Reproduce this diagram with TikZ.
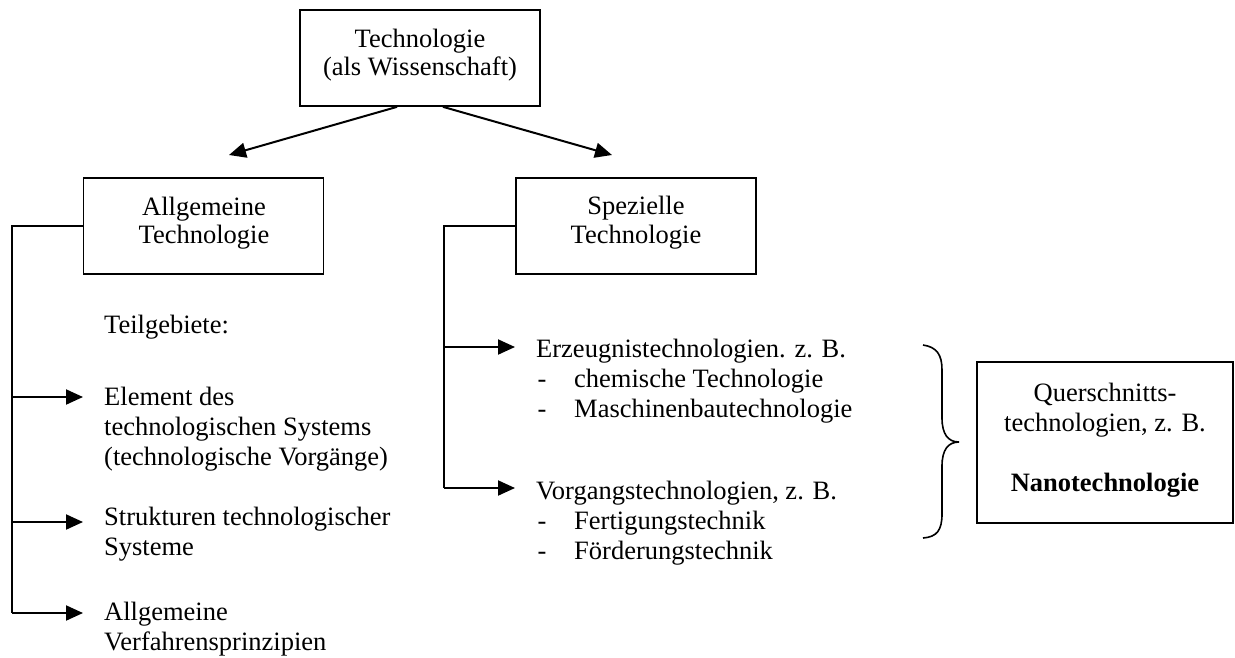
\documentclass[tikz,border=0pt]{standalone}
\usepackage{fontspec}
\setmainfont{Liberation Serif}
\usetikzlibrary{arrows.meta}
\newcommand\lineL[1]{\hbox{#1}}
\newcommand\lineC[1]{\hbox to 0pt{\hss#1\hss}}
\newcommand\dashitem[1]{\hbox{\hspace*{1.5pt}\makebox[36.5pt][l]{-}#1}}
\begin{document}
\begin{tikzpicture}[x=1pt,y=-1pt,
  font=\fontsize{26.5}{30}\selectfont,
  box/.style={draw, line width=1.7pt, minimum width=240pt, minimum height=96pt, inner sep=0pt},
  txt/.style={inner sep=0pt, anchor=base west},
  ctxt/.style={inner sep=0pt, anchor=base},
  ln/.style={line width=2pt},
  arr/.style={line width=2pt, -{Triangle[length=17pt,width=15pt]}}]
\useasboundingbox (0,0) rectangle (1235,657);

% boxes
\node[box] (top) at (420,58) {};
\node[box] (allg) at (203.5,226) {};
\node[box] (spez) at (636,226) {};
\node[draw, line width=2.6pt, minimum width=256pt, minimum height=161pt, inner sep=0pt] (quer) at (1105,442.5) {};

% box texts
\node[ctxt] (topT) at (420,47) {\vtop{\baselineskip=28pt\lineC{Technologie}\lineC{(als Wissenschaft)}}};
\node[ctxt] (allgT) at (204,215) {\vtop{\baselineskip=28pt\lineC{Allgemeine}\lineC{Technologie}}};
\node[ctxt] (spezT) at (636,214) {\vtop{\baselineskip=29pt\lineC{Spezielle}\lineC{Technologie}}};
\node[ctxt] (querT) at (1105,401) {\vtop{\lineC{Querschnitts-}\lineC{technologien, z. B.}\lineC{}\lineC{\bfseries Nanotechnologie}}};

% list texts
\node[txt] (teil) at (104,333) {Teilgebiete:};
\node[txt] (elem) at (104,405) {\vtop{\lineL{Element des}\lineL{technologischen Systems}\lineL{(technologische Vorgänge)}}};
\node[txt] (strk) at (104,525) {\vtop{\lineL{Strukturen technologischer}\lineL{Systeme}}};
\node[txt] (verf) at (104,620) {\vtop{\lineL{Allgemeine}\lineL{Verfahrensprinzipien}}};
\node[txt] (erz) at (536,357) {\vtop{\lineL{Erzeugnistechnologien. z. B.}\dashitem{chemische Technologie}\dashitem{Maschinenbautechnologie}}};
\node[txt] (vorg) at (536,499) {\vtop{\lineL{Vorgangstechnologien, z. B.}\dashitem{Fertigungstechnik}\dashitem{Förderungstechnik}}};

% top arrows
\coordinate (tipL) at (229,155);
\coordinate (tipR) at (612,155);
\draw[arr] ([xshift=-23pt]top.south) -- (tipL);
\draw[arr] ([xshift=23pt]top.south) -- (tipR);

% left tree
\coordinate (L0) at (12,226);
\coordinate (L1) at (12,397);
\coordinate (L2) at (12,522);
\coordinate (L3) at (12,613);
\coordinate (a1) at (83,397);
\coordinate (a2) at (83,522);
\coordinate (a3) at (83,613);
\draw[ln] (allg.west) -- (L0) -- (L3);
\draw[arr] (L3) -- (a3);
\draw[arr] (L1) -- (a1);
\draw[arr] (L2) -- (a2);

% right tree
\coordinate (R0) at (444,226);
\coordinate (R1) at (444,347);
\coordinate (R2) at (444,488);
\coordinate (b1) at (515,347);
\coordinate (b2) at (515,488);
\draw[ln] (spez.west) -- (R0) -- (R2);
\draw[arr] (R2) -- (b2);
\draw[arr] (R1) -- (b1);

% brace
\draw[line width=1.6pt] (923,345) .. controls (937,347) and (942,355) .. (942,370)
  -- (942,418) .. controls (942,434) and (948,442) .. (959,442)
  .. controls (948,442) and (942,450) .. (942,466)
  -- (942,514) .. controls (942,530) and (937,537) .. (923,538);
\end{tikzpicture}
\end{document}
